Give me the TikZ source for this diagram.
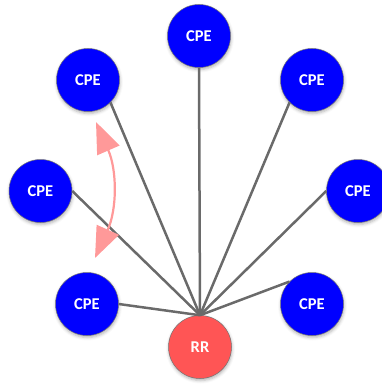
\documentclass[tikz,border=0pt]{standalone}
\usepackage{fontspec}
\setmainfont{Carlito}
\usetikzlibrary{arrows.meta,shadows.blur}
\definecolor{cpeblue}{HTML}{0000FF}
\definecolor{rrred}{HTML}{FF5555}
\definecolor{linkgray}{HTML}{6A6A6A}
\definecolor{arrowpink}{HTML}{FF9999}
\tikzset{
  dev/.style={circle, minimum size=63pt, inner sep=0pt, draw=black!55, line width=0.5pt,
    text=white, font=\bfseries\fontsize{16.5}{16.5}\selectfont,
    blur shadow={shadow xshift=0.5pt, shadow yshift=-2pt, shadow opacity=30, shadow blur radius=3pt}},
  cpe/.style={dev, fill=cpeblue},
  rr/.style={dev, fill=rrred},
  link/.style={draw=linkgray, line width=2.5pt},
  swing/.style={draw=arrowpink, line width=2.2pt,
    {Triangle[length=31pt,width=24pt]}-{Triangle[length=31pt,width=24pt]}}
}
\begin{document}
\begin{tikzpicture}[x=1pt,y=-1pt]
\useasboundingbox (0,0) rectangle (382,385);
\node[cpe] (t)  at (199,36)  {CPE};
\node[cpe] (ul) at (88,80)   {CPE};
\node[cpe] (ur) at (312,80)  {CPE};
\node[cpe] (l)  at (40.5,191) {CPE};
\node[cpe] (r)  at (358,191) {CPE};
\node[cpe] (ll) at (87,304)  {CPE};
\node[cpe] (lr) at (312,304) {CPE};
\node[rr]  (rr) at (200,347) {RR};
\draw[link] (t.south) -- (rr.north);
\draw[link] (ul.south east) -- (rr.north);
\draw[link] (l.east) -- (rr.north);
\draw[link] (ll.east) -- (rr.north);
\draw[link] (ur.south west) -- (rr.north);
\draw[link] (r.west) -- (rr.north);
\draw[link] (lr.north west) -- (rr.north);
\coordinate (a1) at (96,122);
\coordinate (a2) at (95,258);
\draw[swing] (a1) to[bend left=24] (a2);
\end{tikzpicture}
\end{document}
